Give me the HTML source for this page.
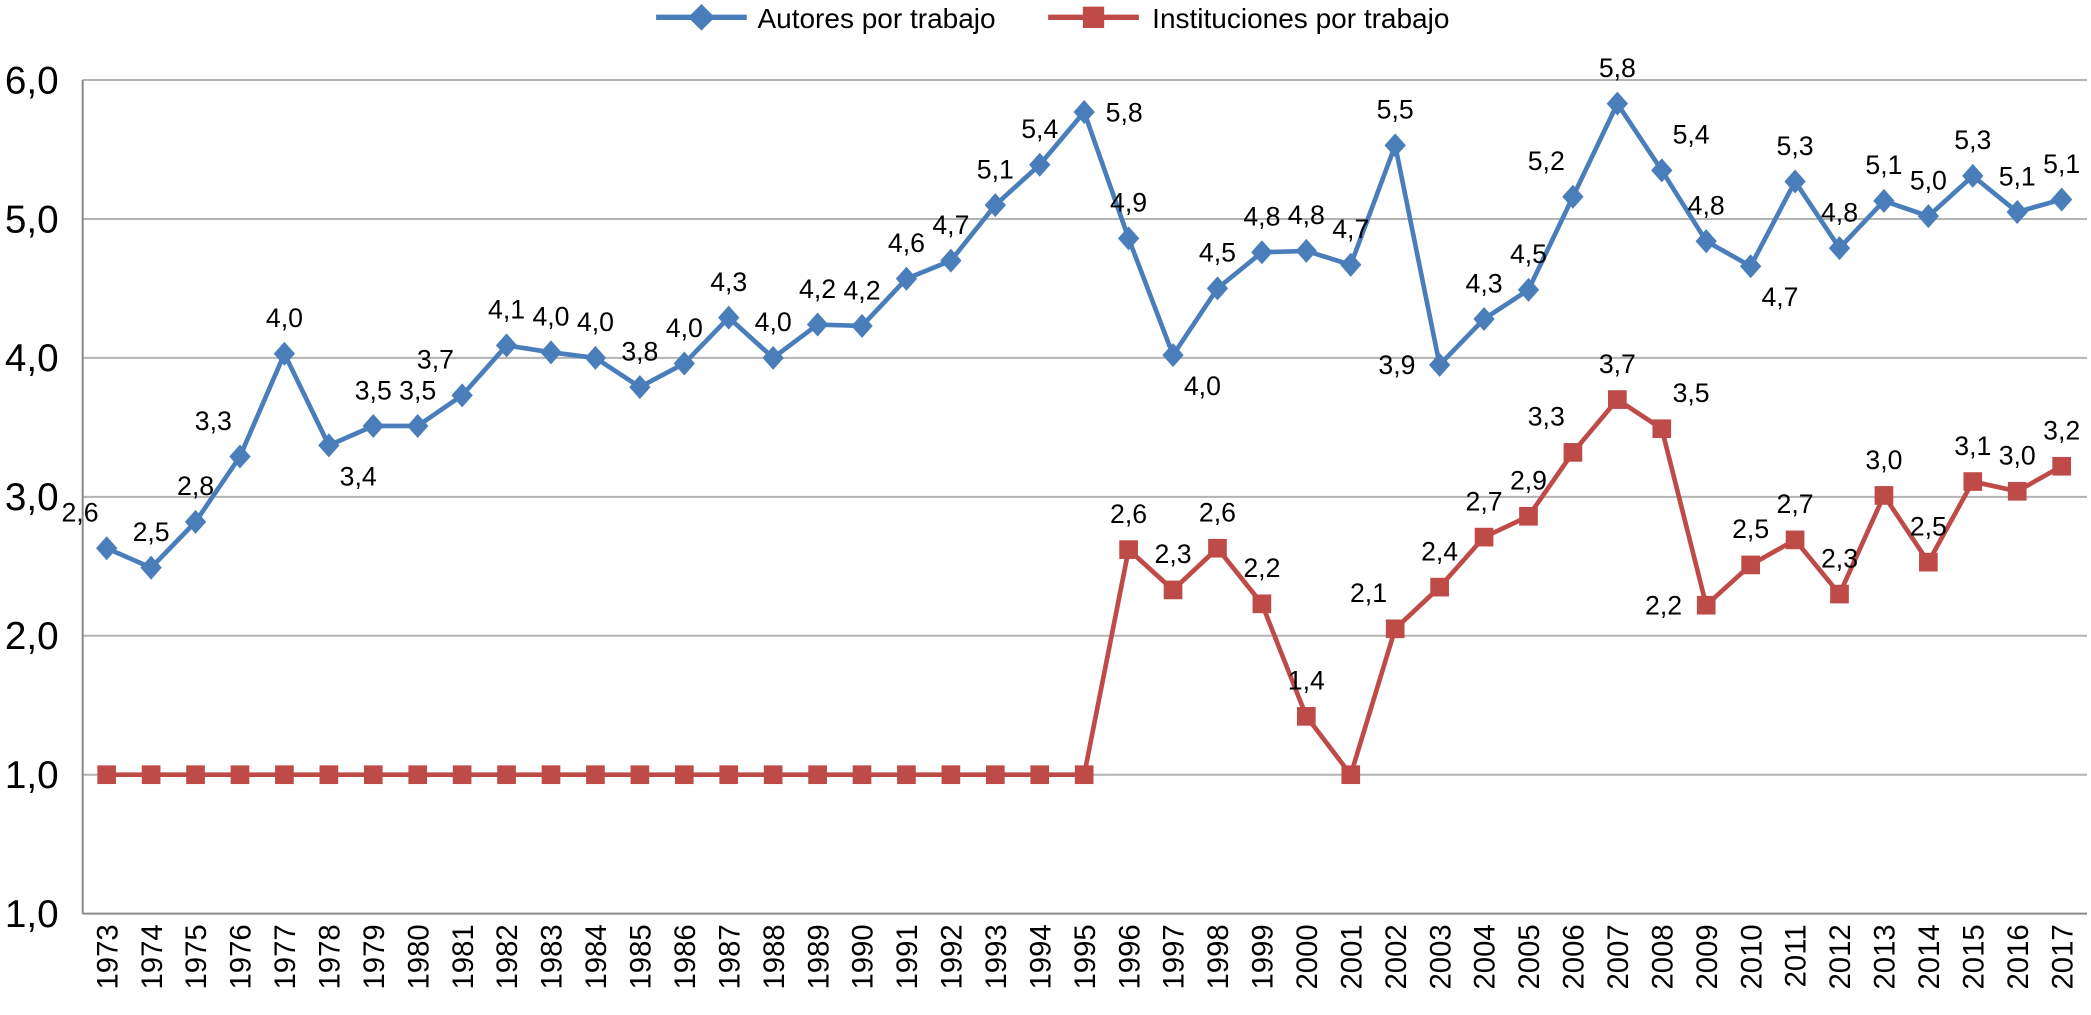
<!DOCTYPE html>
<html><head><meta charset="utf-8"><style>
html,body{margin:0;padding:0;background:#fff;overflow:hidden;}
svg{display:block;}
svg text{font-family:"Liberation Sans",Arial,sans-serif;}
</style></head><body>
<svg id="chart" width="2091" height="1015" viewBox="0 0 1568 761" preserveAspectRatio="none" xmlns="http://www.w3.org/2000/svg">
<g id="grid"></g>
<g id="axes"></g>
<g id="series"></g>
<g id="legend">
  <g>
    <line x1="492" y1="13" x2="560" y2="13" stroke="#4a7ebb" stroke-width="4"/>
    <polygon points="526,3 536,13 526,23 516,13" fill="#4a7ebb"/>
    <text x="568" y="21" font-size="21" fill="#000">Autores por trabajo</text>
  </g>
  <g>
    <line x1="786" y1="13" x2="854" y2="13" stroke="#be4b48" stroke-width="4"/>
    <rect x="812" y="5" width="16" height="16" fill="#be4b48"/>
    <text x="864" y="21" font-size="21" fill="#000">Instituciones por trabajo</text>
  </g>
</g>
</svg>
<script>
const years = [];
for (let y = 1973; y <= 2017; y++) years.push(y);
const yTickValues = [0,1,2,3,4,5,6];
const yTickLabels = ["1,0","1,0","2,0","3,0","4,0","5,0","6,0"];
const autores = [2.63,2.49,2.82,3.29,4.03,3.37,3.51,3.51,3.73,4.09,4.04,4.0,3.79,3.96,4.29,4.0,4.24,4.23,4.57,4.7,5.1,5.39,5.77,4.86,4.02,4.5,4.76,4.77,4.67,5.53,3.95,4.28,4.49,5.16,5.83,5.35,4.84,4.66,5.27,4.79,5.13,5.02,5.31,5.05,5.14];
const autoresLabels = ["2,6","2,5","2,8","3,3","4,0","3,4","3,5","3,5","3,7","4,1","4,0","4,0","3,8","4,0","4,3","4,0","4,2","4,2","4,6","4,7","5,1","5,4","5,8","4,9","4,0","4,5","4,8","4,8","4,7","5,5","3,9","4,3","4,5","5,2","5,8","5,4","4,8","4,7","5,3","4,8","5,1","5,0","5,3","5,1","5,1"];
const autoresLabelPos = ["al","a","a","al","a","br","a","a","al","a","a","a","a","a","a","a","a","a","a","a","a","a","r","a","br","a","a","a","a","a","l","a","a","al","a","ar","a","br","a","a","a","a","a","a","a"];
const instituciones = [1,1,1,1,1,1,1,1,1,1,1,1,1,1,1,1,1,1,1,1,1,1,1,2.62,2.33,2.63,2.23,1.42,1.0,2.05,2.35,2.71,2.86,3.32,3.7,3.49,2.22,2.51,2.69,2.3,3.01,2.53,3.11,3.04,3.22];
const institucionesLabels = ["","","","","","","","","","","","","","","","","","","","","","","","2,6","2,3","2,6","2,2","1,4","","2,1","2,4","2,7","2,9","3,3","3,7","3,5","2,2","2,5","2,7","2,3","3,0","2,5","3,1","3,0","3,2"];
const institucionesLabelPos = ["a","a","a","a","a","a","a","a","a","a","a","a","a","a","a","a","a","a","a","a","a","a","a","a","a","a","a","a","a","al","a","a","a","al","a","ar","l","a","a","a","a","a","a","a","a"];

const NS = "http://www.w3.org/2000/svg";
const plotL = 62, plotR = 1565, x0 = 80, x1 = 1546, yBase = 685, yTop = 60, yMax = 6;
const xs = i => x0 + i * (x1 - x0) / (years.length - 1);
const ys = v => yBase - v * (yBase - yTop) / yMax;
function mk(tag, attrs, parent) { const e = document.createElementNS(NS, tag); for (const k in attrs) e.setAttribute(k, attrs[k]); parent.appendChild(e); return e; }

const grid = document.getElementById('grid'), axes = document.getElementById('axes'), series = document.getElementById('series');
yTickValues.forEach((v, i) => {
  const l = mk('line', {x1: plotL, x2: plotR, y1: ys(v), y2: ys(v), stroke: i === 0 ? '#888' : '#b3b3b3', 'stroke-width': 1.5}, grid);
  
  
  const t = mk('text', {x: 44, y: ys(v) + 10, 'font-size': 29, 'text-anchor': 'end', fill: '#000'}, axes);
  t.textContent = yTickLabels[i];
  
  
});
const ax = mk('line', {x1: plotL, x2: plotL, y1: yTop, y2: yBase, stroke: '#888', 'stroke-width': 1.5}, axes);


years.forEach((yr, i) => {
  const x = xs(i);
  const t = mk('text', {x: 0, y: 0, 'font-size': 22, 'text-anchor': 'end', fill: '#000', transform: `translate(${x + 8},${yBase + 8}) rotate(-90)`}, axes);
  t.textContent = yr;
  
  
});

function labelXY(x, y, pos) {
  switch (pos) {
    case 'al': return [x - 20, y - 20];
    case 'ar': return [x + 22, y - 20];
    case 'br': return [x + 22, y + 30];
    case 'l': return [x - 32, y + 7];
    case 'r': return [x + 30, y + 7];
    default: return [x, y - 20];
  }
}
function drawSeries(vals, labels, pos, color, marker, name) {
  const g = mk('g', {}, series);
  
  
  const p = mk('polyline', {points: vals.map((v, i) => xs(i) + ',' + ys(v)).join(' '), fill: 'none', stroke: color, 'stroke-width': 3.5}, g);
  
  
  vals.forEach((v, i) => {
    const x = xs(i), y = ys(v);
    let m;
    if (marker === 'diamond') m = mk('polygon', {points: `${x},${y - 9} ${x + 8},${y} ${x},${y + 9} ${x - 8},${y}`, fill: color}, g);
    else m = mk('rect', {x: x - 7, y: y - 7, width: 14, height: 14, fill: color}, g);
    
    
    if (labels[i]) {
      const [lx, ly] = labelXY(x, y, pos[i]);
      const t = mk('text', {x: lx, y: ly, 'font-size': 20, 'text-anchor': 'middle', fill: '#000'}, g);
      t.textContent = labels[i];
      
      
    }
  });
}
drawSeries(instituciones, institucionesLabels, institucionesLabelPos, '#be4b48', 'square', 'instituciones-series');
drawSeries(autores, autoresLabels, autoresLabelPos, '#4a7ebb', 'diamond', 'autores-series');
</script>
</body></html>
